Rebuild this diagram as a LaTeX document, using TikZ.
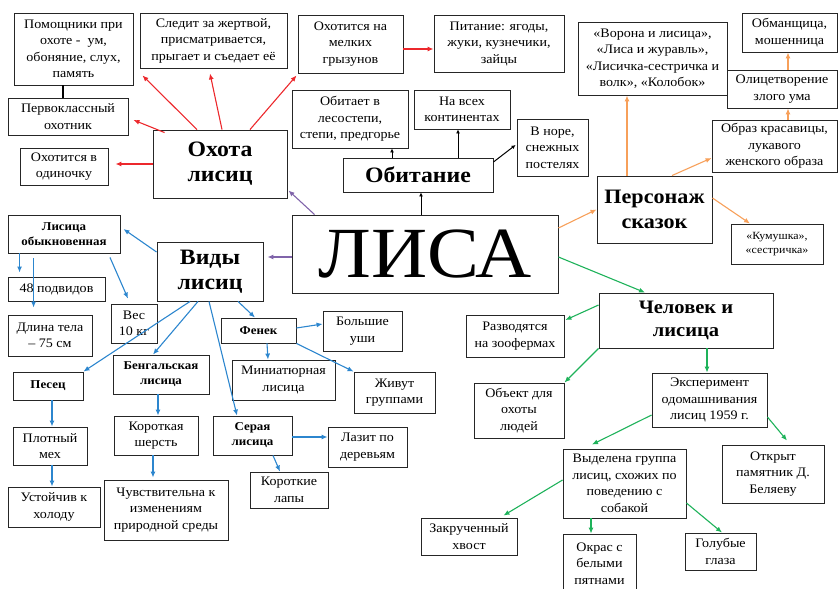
\documentclass[tikz,border=0pt]{standalone}
\usepackage{fontspec}
\setmainfont{Liberation Serif}[FakeStretch=1.08]
\usetikzlibrary{arrows.meta}
\definecolor{redln}{RGB}{236,40,44}
\definecolor{orangeln}{RGB}{247,160,90}
\definecolor{violetln}{RGB}{128,100,170}
\definecolor{blueln}{RGB}{44,134,206}
\definecolor{greenln}{RGB}{30,178,90}

\begin{document}
\begin{tikzpicture}[x=1pt, y=-1pt,
    box/.style={draw=black!85, line width=0.9pt, align=center, inner sep=1pt, fill=white, font=\fontsize{13}{16.5}\selectfont},
    head/.style={box, font=\bfseries\fontsize{22}{25}\selectfont},
    kind/.style={box, font=\bfseries\fontsize{12}{15}\selectfont},
    sz/.style 2 args={minimum width=#1pt, minimum height=#2pt},
    arr/.style={-{Latex[length=6pt,width=5pt]}, line width=1.1pt},
    blk/.style={-{Latex[length=4pt,width=4pt]}, line width=1pt, black}
]
\useasboundingbox (0,0) rectangle (838,589);

% hunting
\node[box, sz={119}{72}] (helpers) at (73.5,49) {Помощники при\\охоте -\ \ ум,\\обоняние, слух,\\память};
\node[box, sz={147}{55}] (tracks) at (213.5,40.5) {Следит за жертвой,\\присматривается,\\прыгает и съедает её};
\node[box, sz={120}{37}] (firstclass) at (68,116.5) {Первоклассный\\охотник};
\node[box, sz={88}{37}] (alone) at (64,166.5) {Охотится в\\одиночку};
\node[head, sz={134}{68}] (hunting) at (220,164) {Охота\\лисиц};
\node[box, sz={105}{58}] (rodents) at (350.5,44) {Охотится на\\мелких\\грызунов};
\node[box, sz={130}{57}] (diet) at (499,43.5) {Питание: ягоды,\\жуки, кузнечики,\\зайцы};

% habitat
\node[box, sz={116}{58}] (steppe) at (350,119) {Обитает в\\лесостепи,\\степи, предгорье};
\node[box, sz={96}{39}] (continents) at (462,109.5) {На всех\\континентах};
\node[box, sz={71}{57}] (burrow) at (552.5,147.5) {В норе,\\снежных\\постелях};
\node[head, sz={150}{34}] (habitat) at (418,175) {Обитание};

\node[box, sz={266}{78}, font=\fontsize{72}{72}\selectfont] (fox) at (425,254) {ЛИСА};

% tales
\node[box, sz={149}{73}] (tales) at (652.5,58.5) {«Ворона и лисица»,\\«Лиса и журавль»,\\«Лисичка-сестричка и\\волк», «Колобок»};
\node[box, sz={95}{39}] (trickster) at (789.5,32.5) {Обманщица,\\мошенница};
\node[box, sz={110}{38}] (evilmind) at (782,89) {Олицетворение\\злого ума};
\node[box, sz={125}{52}] (beauty) at (774.5,146) {Образ красавицы,\\лукавого\\женского образа};
\node[head, sz={115}{67}, font=\bfseries\fontsize{20.5}{25}\selectfont] (character) at (654.5,209.5) {Персонаж\\сказок};
\node[box, sz={92}{40}, font=\fontsize{11}{14}\selectfont] (gossip) at (777,244) {«Кумушка»,\\«сестричка»};

% species
\node[kind, sz={112}{38}] (common) at (64,234) {Лисица\\обыкновенная};
\node[box, sz={97}{24}] (subspecies) at (56.5,289) {48 подвидов};
\node[box, sz={84}{41}] (length) at (50,335.5) {Длина тела\\– 75 см};
\node[box, sz={46}{39}] (weight) at (134,323.5) {Вес\\10 кг};
\node[head, sz={106}{59}] (species) at (210,271.5) {Виды\\лисиц};
\node[kind, sz={75}{25}] (fennec) at (258.5,330.5) {Фенек};
\node[kind, sz={70}{28}] (arctic) at (48,386) {Песец};
\node[kind, sz={96}{39}] (bengal) at (161,374.5) {Бенгальская\\лисица};
\node[box, sz={103}{40}] (mini) at (283.5,380) {Миниатюрная\\лисица};
\node[box, sz={79}{40}] (ears) at (362.5,331) {Большие\\уши};
\node[box, sz={81}{41}] (groups) at (394.5,392.5) {Живут\\группами};
\node[box, sz={74}{38}] (fur) at (50,446) {Плотный\\мех};
\node[box, sz={92}{40}] (cold) at (54,507) {Устойчив к\\холоду};
\node[box, sz={84}{39}] (shortfur) at (156,435.5) {Короткая\\шерсть};
\node[box, sz={124}{60}] (sensitive) at (166,510) {Чувствительна к\\изменениям\\природной среды};
\node[kind, sz={79}{39}] (grey) at (252.5,435.5) {Серая\\лисица};
\node[box, sz={78}{36}] (shortlegs) at (289,490) {Короткие\\лапы};
\node[box, sz={79}{40}] (climbs) at (367.5,447) {Лазит по\\деревьям};

% human
\node[head, sz={174}{55}, font=\bfseries\fontsize{19}{23}\selectfont] (human) at (686,320.5) {Человек и\\лисица};
\node[box, sz={98}{42}] (farms) at (515,336) {Разводятся\\на зоофермах};
\node[box, sz={90}{55}] (game) at (519,410.5) {Объект для\\охоты\\людей};
\node[box, sz={115}{54}] (experiment) at (709.5,400) {Эксперимент\\одомашнивания\\лисиц 1959 г.};
\node[box, sz={102}{58}] (monument) at (773,474) {Открыт\\памятник Д.\\Беляеву};
\node[box, sz={123}{69}] (selected) at (624.5,483.5) {Выделена группа\\лисиц, схожих по\\поведению с\\собакой};
\node[box, sz={96}{37}] (tail) at (469,536.5) {Закрученный\\хвост};
\node[box, sz={73}{59}] (spots) at (599.5,563.5) {Окрас с\\белыми\\пятнами};
\node[box, sz={71}{37}] (eyes) at (720.5,551.5) {Голубые\\глаза};

% red
\draw[arr, redln] ([xshift=-23pt]hunting.north) -- ([xshift=9pt,yshift=10pt]helpers.south east);
\draw[arr, redln] ([xshift=2pt]hunting.north) -- ([xshift=-3.5pt,yshift=-5pt]tracks.south);
\draw[arr, redln] ([xshift=30pt]hunting.north) -- ([xshift=-1pt,yshift=-2pt]rodents.south west);
\draw[arr, redln] ([xshift=12pt,yshift=-3pt]hunting.north west) -- ([xshift=5pt,yshift=-3.5pt]firstclass.east);
\draw[arr, redln] (hunting.west) -- ([xshift=7pt,yshift=2.5pt]alone.east);
\draw[arr, redln] ([yshift=-5pt]rodents.east) -- ([yshift=-5.5pt]diet.west);
\draw[line width=1.3pt] ([xshift=-10.5pt]helpers.south) -- ([xshift=-5pt]firstclass.north);

% black
\draw[blk] ([xshift=-26pt]habitat.north) -- ([xshift=42pt]steppe.south);
\draw[blk] ([xshift=40pt]habitat.north) -- ([xshift=-4pt]continents.south);
\draw[blk] ([yshift=13pt]habitat.east) -- ([xshift=-1pt,yshift=2.5pt]burrow.west);
\draw[blk] ([xshift=-4pt]fox.north) -- ([xshift=3pt]habitat.south);

% violet
\draw[arr, violetln] ([xshift=23pt]fox.north west) -- ([xshift=1pt,yshift=8pt]hunting.south east);
\draw[arr, violetln] ([yshift=-3pt]fox.west) -- ([xshift=4pt,yshift=14.5pt]species.east);

% orange
\draw[arr, orangeln] ([yshift=26pt]fox.east) -- (character.west);
\draw[arr, orangeln] ([xshift=-27.5pt]character.north) -- ([xshift=-25.5pt]tales.south);
\draw[arr, orangeln] ([xshift=17.5pt]character.north) -- ([yshift=-12pt]beauty.west);
\draw[arr, orangeln] ([xshift=13.5pt]beauty.north) -- ([xshift=6pt]evilmind.south);
\draw[arr, orangeln] ([xshift=6pt]evilmind.north) -- ([xshift=-1.5pt]trickster.south);
\draw[arr, orangeln] ([yshift=11.5pt]character.east) -- ([xshift=-27pt]gossip.north);

% green
\draw[arr, greenln] ([yshift=-3pt]fox.east) -- ([xshift=-41pt]human.north);
\draw[arr, greenln] ([yshift=15.5pt]human.west) -- ([xshift=1pt,yshift=16pt]farms.east);
\draw[arr, greenln] (human.south west) -- (game.north east);
\draw[arr, greenln] ([xshift=21pt]human.south) -- ([xshift=-2.5pt]experiment.north);
\draw[arr, greenln] ([yshift=-17pt]experiment.east) -- ([xshift=14pt,yshift=4pt]monument.north);
\draw[arr, greenln] ([yshift=-15pt]experiment.west) -- ([xshift=-32.5pt,yshift=4pt]selected.north);
\draw[arr, greenln] ([yshift=3.5pt]selected.west) -- ([xshift=-14pt,yshift=2pt]tail.north east);
\draw[arr, greenln] ([xshift=-33.5pt]selected.south) -- ([xshift=-8.5pt]spots.north);
\draw[arr, greenln] ([yshift=-19.5pt]selected.east) -- ([xshift=1.5pt]eyes.north);

% blue
\draw[arr, blueln] ([yshift=19.5pt]species.west) -- ([xshift=3pt,yshift=5pt]common.east);
\draw[arr, blueln] ([xshift=12pt]common.south west) -- ([xshift=12pt,yshift=4pt]subspecies.north west);
\draw[arr, blueln] ([xshift=26pt,yshift=-5pt]common.south west) -- ([xshift=26pt,yshift=7pt]length.north west);
\draw[arr, blueln] ([xshift=46pt,yshift=-4pt]common.south) -- ([xshift=-6pt,yshift=5pt]weight.north);
\draw[arr, blueln] ([xshift=-20pt]species.south) -- (arctic.north east);
\draw[arr, blueln] ([xshift=-12pt]species.south) -- ([xshift=-8pt]bengal.north);
\draw[arr, blueln] ([xshift=-1pt]species.south) -- ([xshift=-15.5pt]grey.north);
\draw[arr, blueln] ([xshift=28pt]species.south) -- ([xshift=-3.5pt]fennec.north);
\draw[arr, blueln] ([xshift=8.5pt]fennec.south) -- ([xshift=-15.5pt]mini.north);
\draw[arr, blueln] ([yshift=2.5pt]fennec.east) -- ([yshift=7pt]ears.west);
\draw[arr, blueln] (fennec.south east) -- (groups.north west);
\draw[arr, blueln] ([xshift=4pt]arctic.south) -- ([xshift=2pt]fur.north);
\draw[arr, blueln] ([xshift=2pt]fur.south) -- ([xshift=-2pt]cold.north);
\draw[arr, blueln] ([xshift=-3pt]bengal.south) -- ([xshift=2pt]shortfur.north);
\draw[arr, blueln] ([xshift=-3pt]shortfur.south) -- ([xshift=-13pt,yshift=2pt]sensitive.north);
\draw[arr, blueln] ([yshift=-1.5pt]grey.east) -- ([yshift=10pt]climbs.west);
\draw[arr, blueln] ([xshift=20.5pt]grey.south) -- ([xshift=-9pt]shortlegs.north);
\end{tikzpicture}
\end{document}
